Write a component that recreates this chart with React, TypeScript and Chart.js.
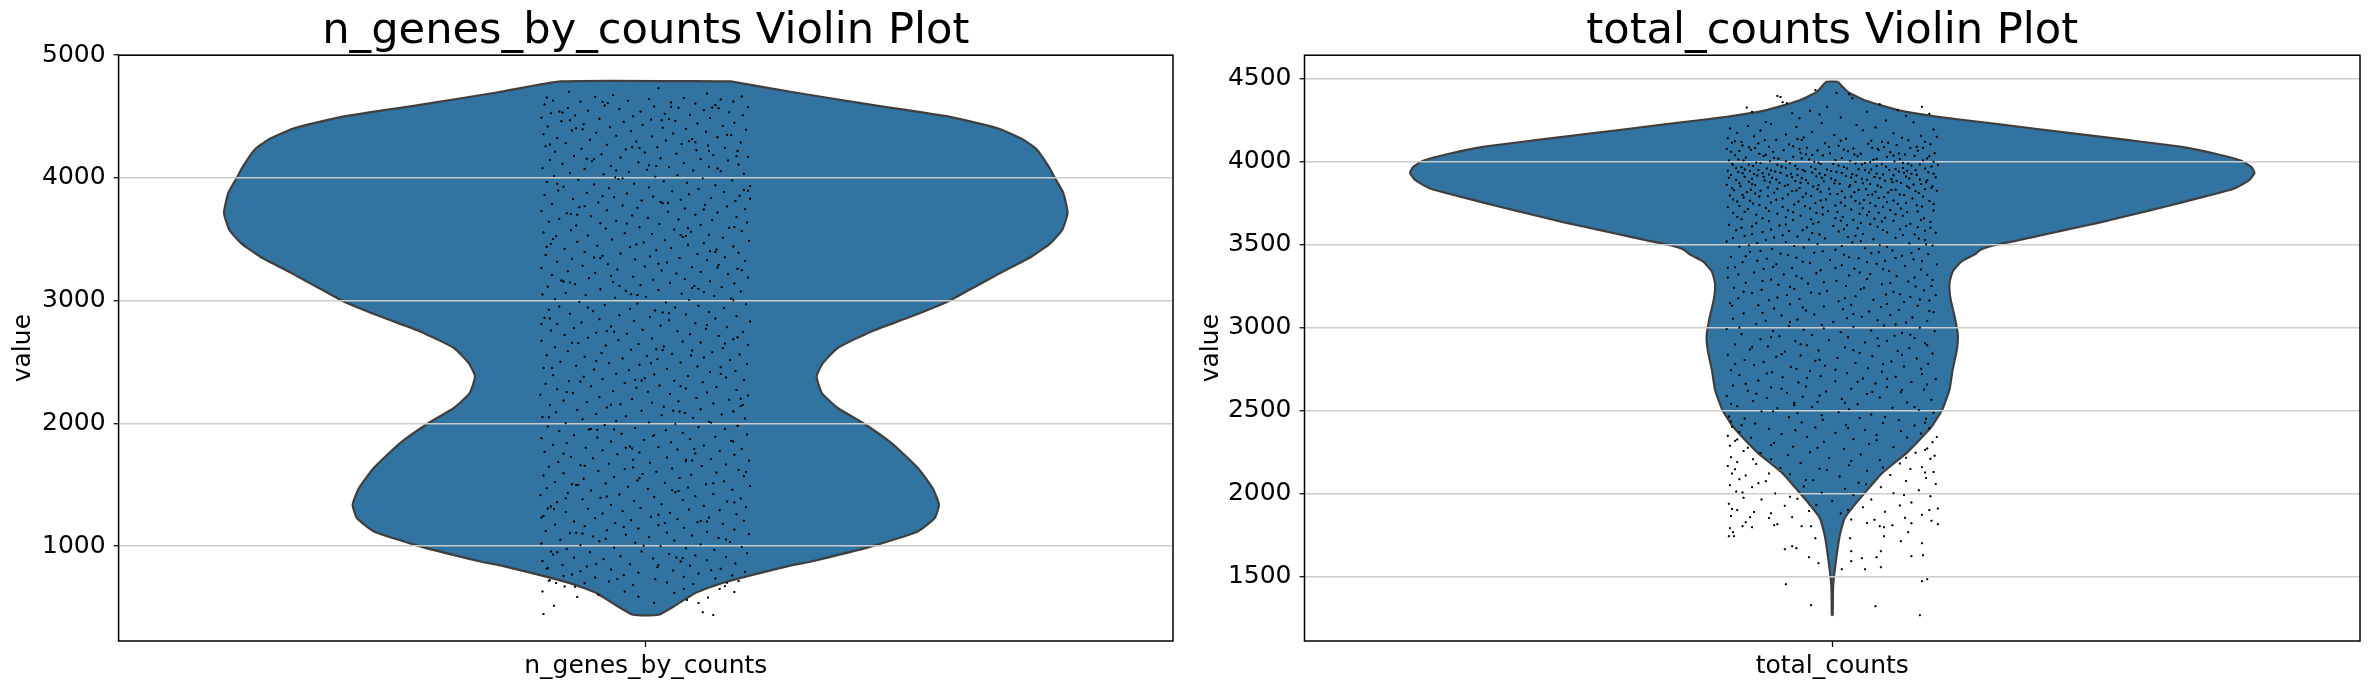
import React, { useEffect, useRef } from "react";
import { Chart, registerables } from "chart.js";

Chart.register(...registerables);

const titleA = "n_genes_by_counts Violin Plot";
const titleB = "total_counts Violin Plot";
const categoryA = "n_genes_by_counts";
const categoryB = "total_counts";
const ticksA = [1000, 2000, 3000, 4000, 5000];
const ticksB = [1500, 2000, 2500, 3000, 3500, 4000, 4500];

const levelsA = [4787,4698,4597,4502,4407,4312,4230,4094,4000,3877,3714,3578,3469,3360,3224,3089,3000,2872,2749,2614,2492,2382,2247,2125,2003,1839,1636,1473,1337,1228,1119,997,874,842,698,617,521,440];
const widthsA = [.0805,.140,.213,.286,.333,.358,.371,.382,.388,.396,.400,.395,.384,.366,.336,.307,.288,.252,.214,.182,.168,.162,.167,.182,.206,.233,.258,.272,.278,.274,.258,.214,.157,.138,.072,.047,.029,.012];
const levelsB = [4480,4419,4369,4309,4269,4225,4175,4127,4088,4048,4004,3967,3931,3887,3837,3777,3727,3677,3630,3586,3542,3500,3470,3440,3395,3335,3265,3175,3064,2954,2863,2743,2623,2502,2401,2250,2120,2000,1929,1850,1739,1558,1437,1267];
const widthsB = [.0053,.0148,.0306,.0622,.100,.157,.220,.283,.331,.362,.3875,.397,.400,.395,.381,.346,.315,.283,.252,.220,.189,.157,.141,.135,.122,.114,.111,.112,.116,.119,.118,.114,.111,.104,.094,.0716,.047,.0305,.021,.0117,.0069,.0028,.0008,.0004];

// Jitter (thousandths of an axis unit) and value, typed by eye: a subset of the reference's dots.
const dotsA: number[][] = [
[-73,4702],[12,4730],[58,4688],[-31,4676],[91,4664],[-94,4655],[-48,4660],[36,4651],[3,4644],[71,4640],
[-88,4632],[-62,4621],[-17,4628],[24,4615],[47,4607],[83,4622],[-96,4598],[-39,4590],[8,4583],[66,4595],[97,4577],[-74,4569],[-25,4562],[31,4571],[55,4552],[-55,4548],[-5,4541],[79,4536],[-90,4528],[18,4523],[42,4514],[-67,4509],[-12,4503],[92,4511],
[-99,4490],[-44,4482],[5,4476],[61,4488],[28,4465],[-80,4461],[-21,4457],[84,4450],[49,4443],[-59,4438],[-3,4431],[73,4424],[-93,4420],[-34,4412],[16,4408],[38,4401],
[95,4393],[-70,4387],[-14,4381],[57,4376],[-47,4368],[26,4362],[-97,4355],[81,4349],[-28,4343],[6,4337],[68,4331],[-84,4326],[44,4318],[-53,4312],[19,4305],
[-9,4296],[90,4289],[-76,4283],[34,4277],[-37,4270],[59,4264],[-95,4258],[11,4251],[75,4245],[-61,4238],[-19,4232],[48,4226],[87,4219],[-86,4213],[-1,4207],
[29,4198],[-42,4192],[64,4186],[-68,4179],[97,4172],[-24,4166],[14,4160],[52,4153],[-91,4147],[78,4141],[-51,4135],[-7,4128],[36,4122],[-79,4116],[88,4109],
[-33,4098],[60,4092],[22,4086],[-98,4079],[-58,4073],[1,4067],[45,4060],[71,4054],[-16,4048],[-72,4041],[93,4035],[-40,4029],[30,4022],[-87,4016],[9,4009],
[54,3997],[-26,3991],[-64,3985],[82,3979],[17,3972],[-94,3966],[39,3960],[-11,3953],[-49,3947],[66,3941],[99,3934],[-78,3928],[3,3922],[-35,3915],[50,3909],
[-83,3898],[25,3892],[74,3886],[-56,3880],[-18,3873],[41,3867],[-96,3861],[89,3855],[7,3848],[-30,3842],[62,3836],[-69,3829],[33,3823],[-4,3817],[85,3811],
[-45,3799],[16,3793],[-89,3787],[56,3781],[-22,3775],[77,3768],[-63,3762],[-8,3756],[37,3750],[94,3744],[-37,3737],[-99,3731],[21,3725],[68,3719],[-75,3712],
[47,3699],[-13,3693],[-52,3687],[86,3681],[2,3675],[-82,3668],[31,3662],[63,3656],[-28,3650],[-92,3643],[96,3637],[-43,3631],[13,3625],[52,3618],[-66,3612],
[-6,3599],[79,3593],[-38,3587],[27,3580],[-71,3574],[91,3568],[43,3562],[-97,3555],[-20,3549],[6,3543],[60,3536],[-55,3530],[-85,3524],[35,3518],[73,3512],
[-32,3498],[18,3492],[98,3486],[-65,3479],[-2,3473],[55,3467],[-90,3461],[40,3455],[-46,3448],[83,3442],[-15,3436],[24,3429],[-77,3423],[67,3417],[10,3411],
[-58,3397],[88,3391],[-24,3385],[49,3379],[-95,3372],[-41,3366],[4,3360],[75,3354],[32,3347],[-70,3341],[-10,3335],[58,3329],[94,3322],[-84,3316],[20,3310],
[-36,3296],[69,3290],[-60,3284],[-1,3278],[44,3271],[-99,3265],[87,3259],[-27,3253],[15,3246],[-74,3240],[52,3234],[-48,3228],[29,3221],[78,3215],[-89,3209],
[-12,3195],[97,3189],[-54,3183],[37,3177],[7,3170],[-80,3164],[61,3158],[-31,3151],[23,3145],[84,3139],[-67,3133],[-5,3126],[46,3120],[-93,3114],[72,3108],
[-43,3093],[12,3087],[-19,3081],[90,3075],[55,3068],[-76,3062],[34,3056],[-98,3049],[-57,3043],[65,3037],[0,3031],[-29,3024],[81,3018],[-86,3012],[41,3006],
[-63,2990],[19,2984],[-8,2977],[95,2971],[-39,2965],[50,2958],[-82,2952],[28,2945],[74,2939],[-15,2933],[-92,2926],[9,2920],[-50,2913],[60,2907],
[-72,2893],[38,2886],[-25,2880],[86,2873],[4,2867],[-96,2861],[66,2854],[-44,2848],[22,2841],[-11,2835],[99,2829],[-61,2822],[47,2816],[-84,2809],
[14,2795],[-33,2789],[77,2783],[-68,2776],[57,2770],[-3,2763],[-90,2757],[30,2750],[92,2744],[-47,2738],[-18,2731],[42,2725],[-77,2719],[69,2712],
[-55,2697],[6,2691],[83,2685],[-26,2678],[-99,2672],[35,2666],[52,2659],[-64,2653],[-7,2646],[97,2640],[-38,2634],[17,2627],[-86,2621],[73,2614],
[-14,2599],[44,2593],[-74,2587],[63,2580],[-42,2574],[25,2568],[89,2561],[-94,2555],[1,2548],[-58,2542],[55,2536],[-22,2529],[11,2523],[80,2516],
[-81,2502],[33,2496],[-35,2489],[96,2483],[-6,2477],[-66,2470],[49,2464],[71,2458],[-97,2451],[20,2445],[-49,2438],[-16,2432],[85,2426],[61,2419],
[-28,2405],[8,2398],[-88,2392],[40,2386],[-59,2380],[76,2373],[-1,2367],[-41,2361],[93,2354],[27,2348],[-73,2342],[54,2335],[-20,2329],[-95,2323],
[13,2309],[-52,2302],[67,2296],[-9,2290],[38,2283],[-84,2277],[86,2271],[-31,2264],[2,2258],[58,2252],[-69,2245],[23,2239],[-100,2233],[97,2226],
[-44,2212],[48,2206],[-13,2199],[79,2193],[-78,2187],[31,2180],[-56,2174],[6,2168],[64,2161],[-24,2155],[-91,2149],[90,2142],[17,2136],[-37,2130],
[52,2115],[-65,2109],[-4,2103],[83,2096],[-85,2090],[37,2084],[-47,2077],[72,2071],[15,2065],[-19,2058],[-98,2052],[45,2046],[94,2039],[-60,2033],
[-28,2019],[60,2013],[3,2006],[-76,2000],[28,1994],[-39,1987],[87,1981],[-93,1975],[50,1968],[-10,1962],[75,1956],[-54,1949],[19,1943],[-82,1937],
[35,1922],[-23,1916],[96,1909],[-68,1903],[7,1897],[66,1890],[-46,1884],[-99,1878],[42,1871],[-2,1865],[81,1859],[-33,1852],[24,1846],[-75,1839],
[-88,1825],[55,1819],[-15,1812],[12,1806],[-57,1800],[91,1793],[30,1787],[-41,1781],[70,1774],[-96,1768],[-6,1762],[47,1755],[-27,1749],[84,1743],
[-71,1728],[20,1722],[-50,1716],[62,1709],[-12,1703],[98,1697],[38,1690],[-83,1684],[4,1678],[-35,1671],[76,1665],[-62,1658],[53,1652],[-92,1646],
[25,1631],[-20,1625],[88,1619],[-45,1612],[10,1606],[67,1600],[-78,1593],[-3,1587],[43,1581],[-97,1574],[93,1568],[-30,1562],[32,1555],[-59,1549],
[-8,1535],[74,1528],[-86,1522],[18,1516],[-38,1509],[57,1503],[-66,1497],[99,1490],[-17,1484],[40,1478],[-94,1471],[2,1465],[82,1459],[-52,1452],
[28,1438],[-74,1432],[64,1425],[-25,1419],[-100,1413],[47,1406],[8,1400],[-43,1394],[90,1387],[-60,1381],[35,1375],[-11,1368],[77,1362],[-84,1356],
[15,1341],[-33,1335],[55,1329],[-90,1322],[95,1316],[-5,1310],[-55,1303],[41,1297],[70,1291],[-22,1284],[-76,1278],[23,1272],[-41,1265],[86,1259],
[-97,1245],[5,1238],[60,1232],[-48,1226],[30,1219],[-14,1213],[93,1207],[-68,1200],[49,1194],[-29,1188],[73,1181],[-86,1175],[12,1169],[-58,1162],
[36,1148],[-7,1142],[84,1135],[-37,1129],[-95,1123],[58,1116],[20,1110],[-72,1104],[98,1097],[-19,1091],[44,1085],[-50,1078],[3,1072],[69,1066],
[-81,1051],[27,1045],[-44,1039],[80,1032],[-10,1026],[-99,1020],[52,1013],[-62,1007],[14,1001],[91,994],[-30,988],[38,982],[-75,975],[65,969],
[-4,955],[-53,949],[96,942],[22,936],[-88,930],[47,923],[-24,917],[76,911],[-68,904],[7,898],[-40,892],[58,885],[-98,879],[33,873],
[85,858],[-15,852],[-79,846],[42,839],[-56,833],[11,827],[-93,820],[71,814],[-33,808],[26,801],[-62,795],[94,789],[-7,782],[50,776],
[-21,762],[-78,755],[36,749],[-48,743],[66,736],[9,730],[-91,722],[88,716],[-35,710],[20,702],[-58,696],[45,690],[-12,682],[75,672],
[-98,630],[-97,446],[-87,513],[-92,717],[-85,698],[-77,671],[-65,584],[-67,668],[-45,603],[64,437],[54,461],[50,535],[59,580],[70,649],[84,625],[39,560],[77,700],[8,538],[-7,586],[-20,630],[27,620],[36,650],
];
const extraDotsA: number[][] = [
[-82,4541],[-79,4533],[-41,4620],[-36,4611],[63,4574],[69,4567],[22,4478],[15,4470],[-66,4404],[-60,4396],[77,4352],[41,4298],[47,4291],[-91,4273],[-13,4249],[-6,4243],[86,4176],[-56,4157],[-49,4152],[3,4103],[10,4097],[68,4076],[-29,4004],[-22,3998],[-84,3952],[93,3902],[97,3895],[-41,3851],[14,3803],[21,3797],[55,3742],[-71,3705],[-65,3699],[-18,3628],[84,3601],[33,3534],[38,3527],[-88,3502],[-9,3457],[61,3402],[66,3396],[-49,3352],[-43,3346],[12,3301],[91,3247],[-33,3203],[-78,3155],[-72,3148],[44,3102],[50,3096],[-14,3052],[-8,3046],[83,3003],[-55,2944],[16,2904],[22,2898],[-91,2855],[58,2801],[-37,2752],[-30,2746],[87,2702],[-70,2657],[10,2603],[16,2597],[43,2552],[-47,2508],[-89,2451],[71,2404],[-10,2355],[-4,2349],[33,2302],[-75,2255],[-69,2249],[90,2201],[-33,2152],[26,2103],[32,2097],[-92,2050],[62,2004],[-52,1953],[-46,1947],[8,1905],[83,1851],[-19,1801],[-13,1795],[-78,1752],[38,1703],[44,1697],[-58,1654],[95,1604],[-6,1553],[-70,1504],[-64,1498],[25,1455],[31,1449],[-37,1403],[84,1354],[-93,1306],[-87,1300],[12,1255],[52,1206],[58,1200],[-21,1155],[-66,1108],[-60,1102],[76,1053],[-2,1003],[-90,956],[-84,950],[29,907],[35,901],[-47,854],[62,803],[-70,768],[-27,731],[82,760],[12,845],[-94,815],[-38,1060],[18,1188],[-99,1232],[-76,1390],[64,1512],[-12,1640],[46,1790],[-30,1950],[92,2150],[-62,2340],[5,2490],[75,2650],[-99,2810],[-25,3120],[68,3270],[-94,3440],[40,3590],[-58,3770],[99,3830],[-28,4060],[60,4220],[-72,4470],[24,4580],
];
const dotsB: number[][] = [
[-49,4388],[-52,4395],[-47,4356],[-43,4351],[-81,4325],[-76,4300],[-16,4431],[4,4412],[16,4405],[-31,4260],[-38,4291],[19,4380],[45,4345],[62,4310],[85,4330],[92,4288],[70,4275],[33,4299],[-5,4330],[-21,4305],[-12,4283],[8,4265],[51,4246],[-63,4238],
[-97,4198],[-80,4214],[-58,4225],[-34,4208],[-10,4231],[23,4219],[41,4205],[77,4236],[96,4192],[-90,4172],[-68,4186],[-44,4163],[-19,4178],[2,4159],[29,4188],[58,4170],[84,4155],[99,4148],[-99,4140],[-74,4152],[-53,4131],[-27,4144],[13,4137],[37,4125],[66,4142],[88,4119],
[-95,4112],[-85,4096],[-70,4108],[-60,4089],[-41,4102],[-24,4083],[-7,4110],[6,4094],[20,4078],[34,4106],[49,4085],[61,4099],[74,4081],[93,4103],[-100,4075],[-88,4063],[-77,4071],[-56,4059],[-46,4068],[-30,4053],[-14,4066],[-2,4050],[15,4061],[27,4047],[44,4069],[55,4055],[69,4042],[81,4064],[97,4049],
[-92,4037],[-82,4024],[-65,4033],[-51,4016],[-37,4028],[-22,4012],[-9,4035],[9,4020],[24,4031],[39,4010],[52,4026],[64,4014],[78,4034],[90,4018],[-98,4006],[-72,3994],[-59,4003],[-40,3989],[-17,3998],[1,3985],[17,4002],[31,3991],[47,3983],[59,3999],[72,3987],[86,4005],[100,3980],
[-94,3978],[-86,3965],[-75,3973],[-62,3958],[-48,3970],[-33,3955],[-20,3968],[-5,3951],[11,3966],[25,3953],[42,3972],[54,3949],[67,3961],[79,3947],[94,3969],[-99,3944],[-89,3936],[-78,3942],[-66,3929],[-54,3939],[-39,3925],[-26,3941],[-12,3927],[4,3938],[19,3923],[35,3933],[48,3921],[63,3940],[75,3926],[91,3935],
[-96,3918],[-83,3908],[-71,3915],[-57,3902],[-43,3913],[-29,3899],[-15,3910],[-1,3897],[13,3912],[28,3895],[40,3906],[56,3893],[70,3909],[83,3891],[98,3904],[-91,3888],[-79,3878],[-64,3885],[-50,3872],[-35,3882],[-23,3869],[-8,3880],[7,3866],[22,3877],[36,3864],[50,3883],[65,3870],[77,3861],[89,3875],
[-100,3859],[-87,3851],[-73,3856],[-61,3843],[-45,3853],[-31,3840],[-18,3849],[-3,3836],[16,3847],[32,3833],[46,3845],[60,3830],[73,3842],[95,3851],[-93,3827],[-81,3816],[-68,3823],[-55,3811],[-38,3820],[-25,3806],[-11,3818],[5,3803],[21,3815],[38,3800],[53,3812],[68,3797],[82,3809],[99,3824],
[-97,3794],[-84,3782],[-69,3789],[-47,3776],[-28,3785],[-6,3771],[12,3783],[30,3768],[44,3780],[58,3765],[76,3777],[92,3762],[-90,3758],[-75,3746],[-58,3752],[-36,3741],[-16,3749],[3,3735],[26,3746],[41,3731],[62,3743],[85,3728],
[-99,3724],[-80,3713],[-63,3720],[-42,3706],[-21,3716],[-4,3700],[18,3711],[35,3697],[55,3708],[71,3693],[96,3705],[-94,3689],[-72,3678],[-52,3684],[-30,3672],[-9,3680],[10,3666],[33,3676],[50,3661],[67,3672],[87,3658],
[-86,3652],[-60,3640],[-37,3647],[-13,3633],[8,3643],[27,3629],[47,3638],[74,3625],[93,3635],[-98,3619],[-76,3608],[-50,3614],[-24,3602],[1,3611],[24,3597],[43,3606],[64,3592],[81,3604],
[-91,3585],[-66,3574],[-41,3581],[-19,3568],[6,3577],[29,3563],[52,3572],[78,3559],[98,3570],[-83,3552],[-55,3542],[-33,3548],[-7,3536],[15,3545],[39,3531],[60,3540],[88,3527],
[-100,3518],[-71,3508],[-44,3514],[-14,3501],[19,3511],[45,3497],[73,3506],[95,3493],[-88,3486],[-57,3474],[-27,3481],[3,3468],[31,3477],[57,3463],[82,3472],
[-78,3455],[-49,3444],[-17,3450],[11,3437],[37,3446],[66,3432],[91,3441],[-96,3425],[-62,3414],[-34,3420],[-2,3406],[25,3416],[50,3402],[77,3411],
[-85,3393],[-53,3381],[-21,3388],[9,3374],[42,3384],[69,3370],[99,3379],[-92,3362],[-65,3351],[-38,3357],[-11,3344],[21,3353],[54,3339],[84,3348],
[-74,3331],[-46,3319],[-15,3326],[16,3312],[36,3322],[61,3308],[90,3317],[-99,3300],[-58,3289],[-29,3295],[4,3281],[33,3291],[72,3277],[95,3286],
[-82,3269],[-51,3257],[-23,3264],[13,3250],[47,3260],[79,3246],[-93,3238],[-67,3226],[-36,3233],[-5,3219],[27,3229],[58,3215],[87,3224],
[-76,3207],[-43,3195],[-12,3202],[22,3188],[51,3198],[74,3184],[98,3193],[-89,3176],[-60,3164],[-31,3171],[6,3157],[39,3167],[68,3153],[92,3162],
[-97,3145],[-70,3133],[-40,3140],[-8,3126],[18,3136],[46,3122],[81,3131],[-55,3114],[-25,3102],[10,3109],[35,3095],[63,3105],[96,3091],
[-84,3083],[-48,3071],[-17,3078],[28,3064],[55,3074],[76,3060],[-94,3052],[-63,3040],[-33,3047],[1,3033],[43,3043],[70,3029],[90,3038],
[-72,3021],[-41,3009],[-10,3016],[20,3002],[49,3012],[83,2998],[-100,2990],[-56,2978],[-27,2985],[8,2971],[37,2981],[66,2967],[97,2976],
[-86,2959],[-50,2947],[-19,2954],[15,2940],[59,2950],[78,2936],[-68,2928],[-35,2916],[-3,2923],[31,2909],[52,2919],[88,2905],
[-92,2897],[-61,2885],[-24,2892],[12,2878],[44,2888],[73,2874],[-78,2866],[-45,2854],[-13,2861],[26,2847],[62,2857],[95,2843],
[-99,2835],[-53,2823],[-30,2830],[5,2816],[38,2826],[80,2812],[-83,2804],[-65,2792],[-16,2799],[22,2785],[56,2795],[91,2781],
[-74,2773],[-39,2761],[-7,2768],[34,2754],[68,2764],[-96,2742],[-57,2730],[-21,2737],[14,2723],[47,2733],[85,2719],
[-88,2711],[-47,2699],[-11,2706],[29,2692],[60,2702],[98,2688],[-70,2680],[-32,2668],[3,2675],[41,2661],[75,2671],
[-94,2649],[-58,2637],[-25,2644],[18,2630],[52,2640],[87,2626],[-80,2618],[-43,2606],[-6,2613],[33,2599],[65,2609],
[-100,2587],[-62,2575],[-28,2582],[9,2568],[45,2578],[94,2564],[-75,2556],[-36,2544],[-14,2551],[24,2537],[71,2547],
[-90,2525],[-52,2513],[-19,2520],[16,2506],[57,2516],[82,2502],[-67,2494],[-33,2482],[6,2489],[37,2475],[96,2485],
[-98,2463],[-83,2451],[-41,2458],[-9,2444],[26,2454],[63,2440],[89,2449],[-96,2432],[-73,2420],[-29,2427],[13,2413],[48,2423],[78,2409],
[-95,2401],[-60,2389],[-16,2396],[31,2382],[92,2392],[-88,2370],[-48,2358],[3,2365],[42,2351],[84,2361],[99,2339],[-99,2347],[-77,2335],[-24,2340],[20,2326],[71,2336],
[-92,2316],[-55,2304],[-8,2311],[35,2297],[95,2307],[-97,2286],[-80,2274],[-37,2281],[11,2267],[58,2277],[88,2263],[-84,2255],[-68,2243],[-21,2248],[27,2234],[79,2244],[97,2226],
[-96,2218],[-58,2206],[-3,2213],[45,2199],[93,2209],[-90,2188],[-72,2176],[-30,2183],[16,2169],[64,2179],[85,2157],[-99,2165],[-49,2153],[-12,2148],[33,2136],[74,2146],[96,2128],
[-95,2120],[-82,2108],[-40,2115],[7,2101],[55,2111],[89,2093],[-88,2085],[-63,2073],[-18,2078],[25,2064],[70,2074],[98,2056],[-97,2048],[-76,2036],[-27,2041],[12,2027],[46,2037],[82,2019],
[-91,2011],[-54,1999],[-10,2004],[20,1990],[58,2000],[93,1982],[-84,1974],[-67,1962],[-33,1967],[0,1953],[37,1963],[75,1945],[-98,1937],[-45,1925],[-15,1930],[29,1916],[64,1926],[100,1908],
[-90,1900],[-74,1888],[-22,1893],[8,1879],[50,1889],[85,1871],[-96,1863],[-60,1851],[-38,1856],[18,1842],[69,1852],[94,1834],[-82,1826],[-52,1814],[33,1821],[57,1808],
[83,1265],[41,1319],[-20,1325],[-44,1452],[85,1470],[90,1482],[31,1542],[9,1542],[46,1554],[-13,1578],[18,1590],[28,1608],[42,1614],[75,1620],[86,1626],[-22,1614],[18,1651],[46,1651],[-45,1663],[-38,1681],[-34,1669],[85,1699],[65,1711],[17,1729],[-16,1729],[49,1741],[-98,1741],[-93,1741],[-94,1765],[-97,1789],[72,1765],[-85,1801],[-76,1795],[-55,1807],[-29,1801],[-20,1801],[45,1801],[49,1795],[75,1819],[100,1813],
];
const extraDotsB: number[][] = [
[-92,4121],[-86,4117],[-64,4128],[-33,4135],[-29,4129],[8,4124],[47,4118],[53,4112],[72,4127],[-79,4085],[-73,4081],[-37,4091],[-31,4076],[-3,4087],[11,4072],[38,4082],[43,4076],[80,4088],[86,4083],[-96,4058],[-69,4046],[-63,4040],[-25,4044],[-19,4038],[21,4041],[58,4035],[63,4048],[92,4031],[-89,4012],[-84,4006],[-55,4021],[-44,4001],[-29,4018],[-13,3993],[3,4009],[36,3996],[42,4016],[67,3992],[96,3998],[-95,3986],[-79,3982],[-68,3989],[-52,3980],[-35,3974],[-11,3984],[6,3976],[22,3988],[28,3981],[51,3968],[75,3976],[83,3982],[-91,3959],[-83,3952],[-70,3949],[-58,3945],[-44,3961],[-28,3949],[-16,3955],[-1,3942],[14,3958],[31,3947],[37,3952],[60,3954],[71,3944],[88,3958],[-85,3929],[-74,3924],[-60,3921],[-49,3932],[-33,3917],[-19,3933],[-7,3918],[9,3930],[23,3915],[42,3927],[58,3916],[68,3932],[80,3919],[96,3926],[-98,3901],[-76,3896],[-65,3908],[-53,3891],[-38,3904],[-25,3888],[-10,3902],[3,3886],[18,3903],[33,3889],[45,3899],[61,3884],[73,3897],[90,3886],[-88,3868],[-76,3862],[-59,3875],[-42,3859],[-30,3871],[-13,3856],[2,3868],[17,3856],[29,3869],[43,3855],[57,3874],[71,3850],[84,3864],[94,3841],[-95,3838],[-77,3830],[-52,3836],[-34,3825],[-14,3832],[9,3821],[25,3830],[41,3817],[56,3828],[79,3820],[88,3833],[-85,3799],[-73,3806],[-61,3792],[-42,3801],[-20,3791],[-2,3804],[18,3789],[34,3798],[49,3786],[64,3801],[86,3788],[-94,3770],[-78,3763],[-53,3769],[-32,3758],[-11,3764],[8,3752],[22,3762],[36,3749],[52,3755],[70,3749],[96,3744],[-88,3731],[-69,3737],[-47,3725],[-26,3730],[-9,3722],[12,3733],[29,3718],[48,3724],[65,3716],[80,3736],[-83,3697],[-60,3702],[-37,3693],[-15,3689],[5,3695],[26,3684],[44,3690],[60,3682],[81,3698],[-90,3665],[-66,3658],[-44,3664],[-20,3651],[3,3658],[20,3649],[40,3655],[58,3643],[84,3647],[-72,3627],[-44,3620],[-18,3625],[14,3617],[36,3622],[70,3611],[93,3600],[-86,3601],[-58,3590],[-28,3585],[11,3591],[48,3587],[88,3582],[-76,3561],[-47,3555],[-12,3559],[22,3552],[67,3557],[-94,3537],[-63,3526],[-22,3529],[27,3519],[82,3535],[-79,3495],[-36,3491],[9,3490],[52,3484],[89,3500],[-68,3462],[-9,3459],[44,3453],[75,3448],[-82,3428],[-42,3435],[16,3422],[60,3418],[-71,3401],[-28,3396],[33,3393],[85,3398],[-99,3360],[-56,3365],[3,3358],[48,3350],[-34,3310],[-89,3318],[26,3330],[78,3301],[-66,3280],[-8,3272],[55,3268],[-40,3245],[30,3238],[94,3250],[-84,3215],[-20,3210],[64,3200],[-52,3180],[12,3175],[83,3168],[-95,3130],[-28,3120],[52,3141],[-66,3088],[20,3080],[92,3098],[-40,3032],[14,3055],[60,3018],[-88,2998],[-8,2995],[74,2955],[-58,2940],[43,2935],[-30,2898],[90,2892],[-76,2880],[20,2862],[-48,2838],[66,2835],[-12,2805],[48,2778],[-92,2780],[-34,2750],[84,2750],[-62,2722],[3,2745],[52,2690],[-24,2695],[-82,2660],[24,2672],[90,2655],[-48,2630],[66,2622],[-12,2590],[38,2610],[-72,2600],[-96,2540],[-36,2530],[12,2545],[78,2520],[-56,2494],[50,2462],[-10,2470],[88,2425],[-86,2410],[-35,2380],[15,2392],[65,2375],[-90,2325],[-58,2290],[-14,2275],[42,2320],[90,2270],[-75,2205],[-42,2230],[18,2195],[70,2215],[-92,2145],[-60,2120],[-5,2140],[48,2155],[88,2125],[-70,2060],[-25,2080],[32,2055],[-85,2005],[-40,1980],[68,1990],[-95,1905],[-58,1880],[15,1900],[92,1900],[-78,1855],[40,1840],
];

function outline(levels: number[], widths: number[]) {
  const right = levels.map((v, i) => ({ x: widths[i], y: v }));
  const left = levels.map((v, i) => ({ x: -widths[i], y: v })).reverse();
  return [...right, ...left, right[0]];
}

const framePlugin = {
  id: "frame",
  afterDraw(chart: any) {
    const { ctx, chartArea: a } = chart;
    const meta = chart.getDatasetMeta(1);
    ctx.save();
    meta.data.forEach((p: any) => p.draw(ctx, a));
    ctx.strokeStyle = "#000";
    ctx.lineWidth = 1.5;
    ctx.strokeRect(a.left, a.top, a.right - a.left, a.bottom - a.top);
    ctx.restore();
  },
};

const FONT = "'DejaVu Sans'";

function makeChart(canvas: HTMLCanvasElement, cfg: any) {
  return new Chart(canvas, {
    type: "scatter",
    data: {
      datasets: [
        {
          data: outline(cfg.levels, cfg.widths),
          showLine: true,
          fill: "shape",
          tension: 0.16,
          backgroundColor: "#3274a1",
          borderColor: "#3f3f3f",
          borderWidth: 2.2,
          pointRadius: 0,
          order: 2,
        },
        {
          data: cfg.dots.map((d: number[]) => ({ x: d[0] / 1000, y: d[1] })),
          showLine: false,
          backgroundColor: "#000",
          borderWidth: 0,
          pointRadius: 1,
          order: 1,
        },
      ],
    },
    plugins: [framePlugin],
    options: {
      animation: false,
      responsive: false,
      layout: { padding: { left: 0, right: cfg.padRight, top: 0, bottom: 0 } },
      plugins: {
        legend: { display: false },
        tooltip: { enabled: false },
        title: {
          display: true,
          fullSize: false,
          text: cfg.title,
          color: "#000",
          font: { family: FONT, size: 43.2, weight: "normal", lineHeight: 1.07 },
          padding: { top: 9, bottom: 0 },
        },
      },
      scales: {
        x: {
          type: "linear",
          min: -0.5,
          max: 0.5,
          afterBuildTicks: (s: any) => { s.ticks = [{ value: 0 }]; },
          afterFit: (s: any) => { s.height = 49; },
          grid: { drawOnChartArea: false, tickLength: 6, tickColor: "#000", tickWidth: 1.2 },
          border: { display: false },
          ticks: {
            autoSkip: false, maxRotation: 0, padding: 4,
            color: "#000",
            font: { family: FONT, size: 25 },
            callback: () => cfg.category,
          },
        },
        y: {
          type: "linear",
          min: cfg.min,
          max: cfg.max,
          afterBuildTicks: (s: any) => { s.ticks = cfg.ticks.map((value: number) => ({ value })); },
          afterFit: (s: any) => { s.width = cfg.axisWidth; },
          title: { display: true, text: "value", color: "#000", font: { family: FONT, size: 25 }, padding: { top: cfg.labelPad, bottom: 0 } },
          grid: { color: "#cccccc", lineWidth: 1.5, z: 1, tickLength: 5, tickColor: "#000", tickWidth: 1.2 },
          border: { display: false },
          ticks: { padding: 8, color: "#000", font: { family: FONT, size: 25 }, callback: (v: any) => String(v) },
        },
      },
    },
  } as any);
}

export default function App() {
  const a = useRef<HTMLCanvasElement>(null);
  const b = useRef<HTMLCanvasElement>(null);
  useEffect(() => {
    const c1 = makeChart(a.current!, { levels: levelsA, widths: widthsA, dots: [...dotsA, ...extraDotsA], title: titleA, category: categoryA, ticks: ticksA, min: 226, max: 5000, axisWidth: 118.6, padRight: 12, labelPad: 8 });
    const c2 = makeChart(b.current!, { levels: levelsB, widths: widthsB, dots: [...dotsB, ...extraDotsB], title: titleB, category: categoryB, ticks: ticksB, min: 1110, max: 4640, axisWidth: 119.5, padRight: 11, labelPad: 11 });
    return () => { c1.destroy(); c2.destroy(); };
  }, []);
  return (
    <div style={{ position: "absolute", left: 0, top: 0, width: 2371, height: 690, background: "#fff", overflow: "hidden" }}>
      <canvas ref={a} width={1185} height={690} style={{ position: "absolute", left: 0, top: 0 }} />
      <canvas ref={b} width={1186} height={690} style={{ position: "absolute", left: 1185, top: 0 }} />
    </div>
  );
}
